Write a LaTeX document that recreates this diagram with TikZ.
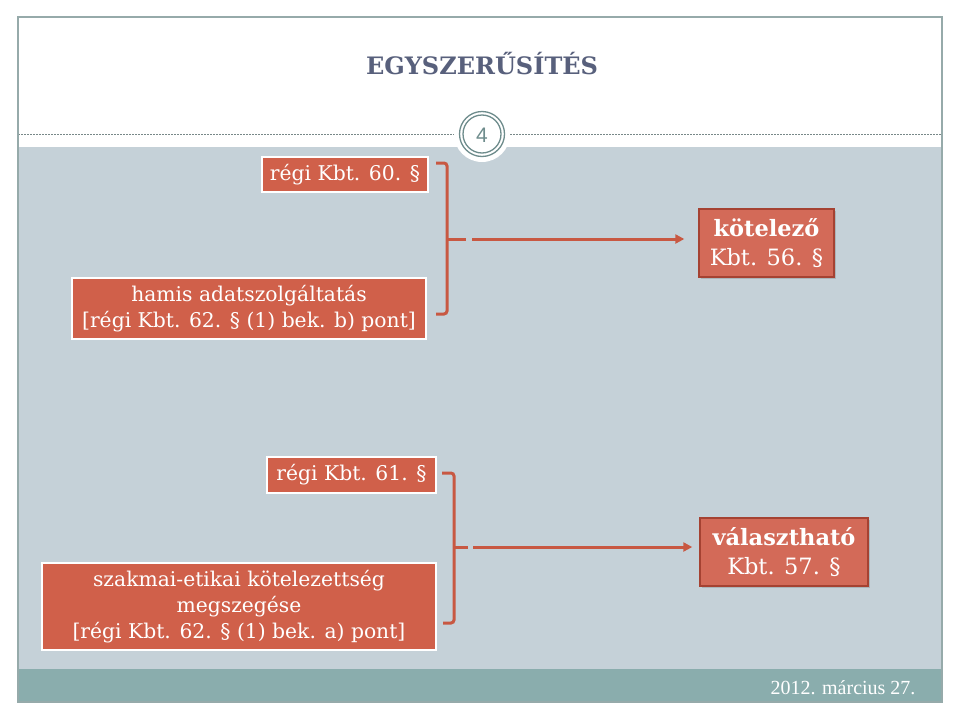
\documentclass[tikz,border=0pt]{standalone}
\usepackage{fontspec}
\setmainfont{DejaVu Serif}
\newfontfamily\datefont{Liberation Serif}
\newfontfamily\numfont{Liberation Sans}
\usetikzlibrary{shadows,arrows.meta}
\definecolor{bandc}{RGB}{197,209,216}
\definecolor{footc}{RGB}{138,173,173}
\definecolor{framec}{RGB}{150,170,170}
\definecolor{ringc}{RGB}{110,140,140}
\definecolor{titlec}{RGB}{88,96,124}
\definecolor{boxred}{RGB}{208,96,74}
\definecolor{rboxred}{RGB}{211,106,88}
\definecolor{rboxedge}{RGB}{165,66,50}
\definecolor{arrowc}{RGB}{200,88,66}
\tikzset{
  lbox/.style={fill=boxred, draw=white, line width=1.6pt, text=white, align=center, inner sep=0pt,
    font=\fontsize{20.3}{26}\selectfont},
  rbox/.style={fill=rboxred, draw=rboxedge, line width=1.4pt, text=white, align=center, inner sep=0pt,
    font=\fontsize{22.5}{29}\selectfont,
    drop shadow={opacity=0.35, shadow xshift=2pt, shadow yshift=-2pt}},
  brk/.style={draw=arrowc, line width=3pt, rounded corners=3pt},
  arr/.style={draw=arrowc, line width=3pt, -{Triangle[length=9pt,width=9pt]}}
}
\begin{document}
\begin{tikzpicture}[x=1pt,y=-1pt]
\useasboundingbox (0,0) rectangle (960,720);
\fill[white] (0,0) rectangle (960,720);
\fill[bandc] (18,147) rectangle (942,669);
\fill[footc] (18,669) rectangle (942,702);
\draw[framec!80!black, line width=0.6pt, dash pattern=on 2pt off 1pt] (18,134) -- (942,134);
\draw[framec, line width=1.2pt] (18,17) rectangle (942,702);
\fill[white] (482,134) circle (28);
\draw[ringc, line width=1.3pt] (482,134) circle (22.5);
\draw[ringc, line width=1.3pt] (482,134) circle (19);
\node[text=ringc, font=\numfont\fontsize{21}{24}\selectfont] (num) at (482,135) {4};
\node[text=titlec, font=\fontsize{24}{28}\selectfont\bfseries] (title) at (482,64) {EGYSZERŰSÍTÉS};

\node[lbox, minimum width=166pt, minimum height=35pt] (b60) at (345,174.5) {régi Kbt. 60. §};
\node[lbox, minimum width=354pt, minimum height=61pt] (b62b) at (249,308.5) {hamis adatszolgáltatás\\{}[régi Kbt. 62. § (1) bek. b) pont]};
\node[lbox, minimum width=169pt, minimum height=36pt] (b61) at (351.5,475) {régi Kbt. 61. §};
\node[lbox, minimum width=394pt, minimum height=87pt] (b62a) at (239,606.5) {szakmai-etikai kötelezettség\\megszegése\\{}[régi Kbt. 62. § (1) bek. a) pont]};

\node[rbox, minimum width=135pt, minimum height=68pt] (kot) at (766.5,243) {\textbf{kötelező}\\Kbt. 56. §};
\node[rbox, minimum width=168pt, minimum height=68pt] (val) at (784,552) {\textbf{választható}\\Kbt. 57. §};

\draw[brk] (436,163) -- (447,163) -- (447,314) -- (436,314);
\draw[brk] (447,239) -- (466,239);
\coordinate (s1) at (472,239);
\draw[arr] (s1) -- ([xshift=-14pt]kot.west |- s1);

\draw[brk] (442,473) -- (454,473) -- (454,623) -- (443,623);
\draw[brk] (454,547) -- (468,547);
\coordinate (s2) at (473,547);
\draw[arr] (s2) -- ([xshift=-7pt]val.west |- s2);

\node[anchor=east, text=white, font=\datefont\fontsize{20}{22}\selectfont] (date) at (919,688) {2012. március 27.};
\end{tikzpicture}
\end{document}
